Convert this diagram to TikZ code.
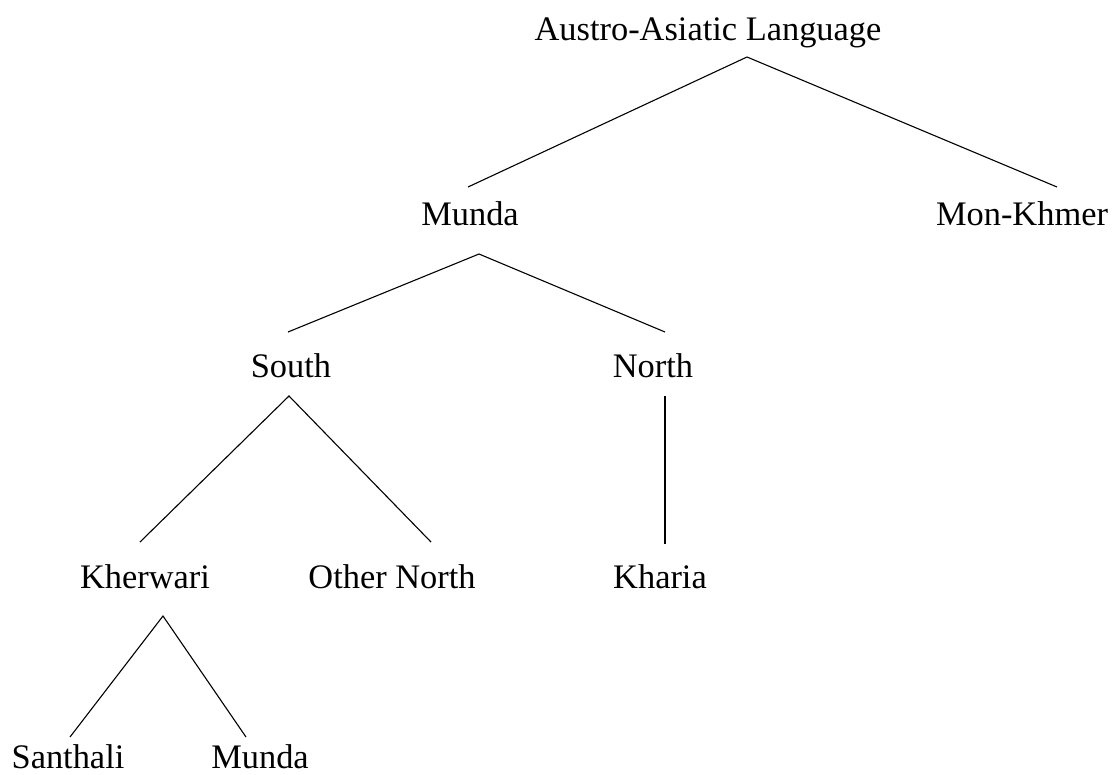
\documentclass[tikz,border=0pt]{standalone}
\usepackage{fontspec}
\setmainfont{Liberation Serif}
\begin{document}
\begin{tikzpicture}[x=1pt,y=-1pt,
  lbl/.style={anchor=base,inner sep=0pt,font=\fontsize{34.4}{40}\selectfont},
  edge/.style={line width=1.1pt,black}]
\useasboundingbox (0,0) rectangle (1118,774);
% labels
\node[lbl] (aal) at (708,40) {Austro-Asiatic Language};
\node[lbl] (munda) at (470,225) {Munda};
\node[lbl] (mk) at (1022,225) {Mon-Khmer};
\node[lbl] (south) at (291,377) {South};
\node[lbl] (north) at (653,377) {North};
\node[lbl] (kher) at (145,588) {Kherwari};
\node[lbl] (other) at (392,588) {Other North};
\node[lbl] (kharia) at (660,588) {Kharia};
\node[lbl] (santh) at (68,768) {Santhali};
\node[lbl] (munda2) at (260,768) {Munda};
% connector end points
\coordinate (aalB) at (747,57);
\coordinate (mundaT) at (468,187);
\coordinate (mkT) at (1057,187);
\coordinate (mundaB) at (479,254);
\coordinate (southT) at (288,332);
\coordinate (northT) at (665,332);
\coordinate (southB) at (289,396);
\coordinate (kherT) at (140,542);
\coordinate (otherT) at (431,542);
\coordinate (northB) at (665,396);
\coordinate (khariaT) at (665,544);
\coordinate (kherB) at (163,616);
\coordinate (santhT) at (70,737);
\coordinate (munda2T) at (246,737);
% connectors
\draw[edge] (mundaT) -- (aalB) -- (mkT);
\draw[edge] (southT) -- (mundaB) -- (northT);
\draw[edge] (kherT) -- (southB) -- (otherT);
\draw[edge] (northB) -- (khariaT);
\draw[edge] (santhT) -- (kherB) -- (munda2T);
\end{tikzpicture}
\end{document}
